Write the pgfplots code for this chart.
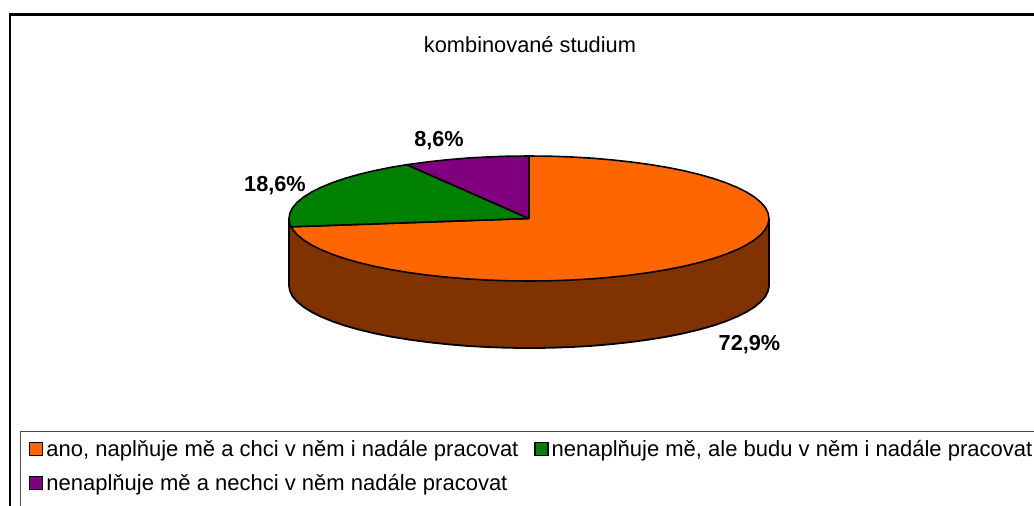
\documentclass[border=0pt]{standalone}
\usepackage{fontspec}
\setmainfont{Liberation Sans}
\usepackage{pgfplots}
\pgfplotsset{compat=1.18}
\definecolor{sliceA}{HTML}{FF6600}
\definecolor{sliceB}{HTML}{008000}
\definecolor{sliceC}{HTML}{800080}
\definecolor{wallA}{HTML}{803300}
\begin{document}
\begin{tikzpicture}
\begin{axis}[
  at={(0,0)},anchor=south west,
  scale only axis,width=1034pt,height=506pt,
  xmin=0,xmax=1034,ymin=0,ymax=506,y dir=reverse,
  hide axis,clip=false,
  legend image code/.code={\draw[#1,line width=1.2pt] (0pt,-6.5pt) rectangle (13pt,6.5pt);},
  legend columns=2,
  legend cell align=left,
  legend style={at={(axis cs:29,438)},anchor=north west,draw=none,fill=none,
    font=\fontsize{22}{25}\selectfont,inner xsep=0pt,inner ysep=0pt,
    row sep=12pt,
    /tikz/every even column/.append style={column sep=14pt},
    /tikz/every odd column/.append style={column sep=1pt}},
]
% frame
\addplot[forget plot,black,line width=2.4pt] coordinates {(10,506) (10,14.5) (1034,14.5)};
% legend box
\addplot[forget plot,color={black!70},line width=1.1pt] coordinates {(1034,431.5) (20.5,431.5) (20.5,506)};
% wall
\addplot[forget plot,fill=wallA,draw=black,line width=1.8pt] coordinates {
(769,218.5)(769,285.5)(768.1,290.95)(765.4,296.35)(760.8,301.7)(754.5,306.9)(746.5,311.9)(736.8,316.75)(725.6,321.35)(712.9,325.7)(698.7,329.7)(683.3,333.4)(666.7,336.7)(649,339.6)(630.4,342.1)(611.1,344.2)(591.1,345.9)(570.7,347.05)(549.9,347.8)(529,348)
(508.1,347.8)(487.3,347.05)(466.9,345.9)(446.9,344.2)(427.6,342.1)(409,339.6)(391.3,336.7)(374.7,333.4)(359.3,329.7)(345.1,325.7)(332.4,321.35)(321.2,316.75)(311.5,311.9)(303.5,306.9)(297.2,301.7)(292.6,296.35)(289.9,290.95)(289,285.5)(289,218.5)(769,218.5)};
% 72.9 %
\addplot[fill=sliceA,draw=black,line width=1.6pt] coordinates {
(529,218.5)(529,156)(549.9,156.2)(570.7,156.95)(591.1,158.1)(611.1,159.8)(630.4,161.9)(649,164.4)(666.7,167.3)(683.3,170.6)(698.7,174.3)(712.9,178.3)(725.6,182.65)(736.8,187.25)(746.5,192.1)(754.5,197.1)(760.8,202.3)(765.4,207.65)(768.1,213.05)(769,218.5)
(768.1,223.95)(765.4,229.35)(760.8,234.7)(754.5,239.9)(746.5,244.9)(736.8,249.75)(725.6,254.35)(712.9,258.7)(698.7,262.7)(683.3,266.4)(666.7,269.7)(649,272.6)(630.4,275.1)(611.1,277.2)(591.1,278.9)(570.7,280.05)(549.9,280.8)(529,281)
(508.1,280.8)(487.3,280.05)(466.9,278.9)(446.9,277.2)(427.6,275.1)(409,272.6)(391.3,269.7)(374.7,266.4)(359.3,262.7)(345.1,258.7)(332.4,254.35)(321.2,249.75)(311.5,244.9)(303.5,239.9)(297.2,234.7)(292.6,229.35)(291.1,226.8)(529,218.5)};
\addlegendentry{ano, naplňuje mě a chci v něm i nadále pracovat}
% 18.6 %
\addplot[fill=sliceB,draw=black,line width=1.6pt] coordinates {
(529,218.5)(291.1,226.8)(289.9,223.95)(289,218.5)(289.9,213.05)(292.6,207.65)(297.2,202.3)(303.5,197.1)(311.5,192.1)(321.2,187.25)(332.4,182.65)(345.1,178.3)(359.3,174.3)(374.7,170.6)(391.3,167.3)(406.8,164.7)(529,218.5)};
\addlegendentry{nenaplňuje mě, ale budu v něm i nadále pracovat}
% 8.6 %
\addplot[fill=sliceC,draw=black,line width=1.6pt] coordinates {
(529,218.5)(406.8,164.7)(409,164.4)(427.6,161.9)(446.9,159.8)(466.9,158.1)(487.3,156.95)(508.1,156.2)(529,156)(529,218.5)};
\addlegendentry{nenaplňuje mě a nechci v něm nadále pracovat}
\node[font=\fontsize{21.8}{25}\selectfont] at (axis cs:530,45) {kombinované studium};
\node[font=\fontsize{21.7}{25}\selectfont\bfseries] at (axis cs:749.5,345) {72,9\%};
\node[font=\fontsize{21.7}{25}\selectfont\bfseries] at (axis cs:275,186) {18,6\%};
\node[font=\fontsize{21.7}{25}\selectfont\bfseries] at (axis cs:439,141) {8,6\%};
\end{axis}
\pgfresetboundingbox
\path[use as bounding box] (0,0) rectangle (1034pt,506pt);
\end{tikzpicture}
\end{document}
